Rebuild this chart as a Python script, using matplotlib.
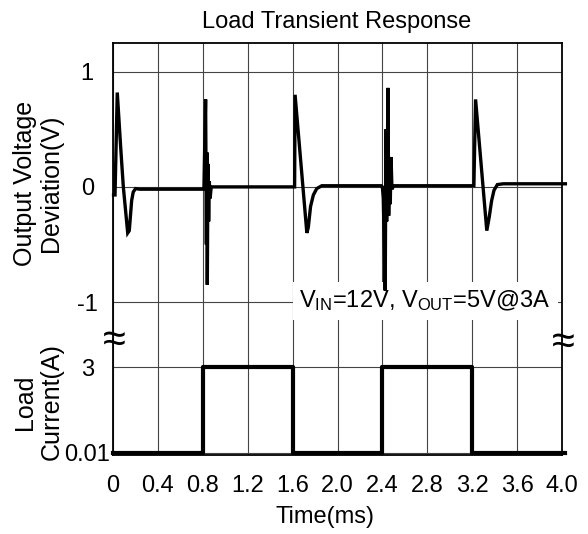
# Load transient response chart
import matplotlib
matplotlib.use('Agg')
import matplotlib.pyplot as plt
import numpy as np

plt.rcParams['font.family'] = ['Liberation Sans', 'DejaVu Sans']
plt.rcParams['mathtext.fontset'] = 'custom'
plt.rcParams['mathtext.rm'] = 'Liberation Sans'
plt.rcParams['mathtext.it'] = 'Liberation Sans:italic'

# output voltage deviation (V) vs time (ms)
t_volt = [0.005, 0.018, 0.038, 0.068, 0.092, 0.131, 0.145, 0.166, 0.18, 0.201, 0.24,
          0.80, 0.81, 0.825, 0.832, 0.836, 0.84, 0.846, 0.852, 0.858, 0.865, 0.875, 0.90,
          1.60, 1.618, 1.622, 1.727, 1.74, 1.76, 1.785, 1.815, 1.86,
          2.39, 2.40, 2.408, 2.425, 2.432, 2.438, 2.45, 2.456, 2.462, 2.47, 2.477, 2.485, 2.50,
          3.21, 3.215, 3.23, 3.33, 3.352, 3.373, 3.394, 3.424, 3.477, 4.03]
v_out = [-0.07, -0.07, 0.82, 0.35, 0.00, -0.40, -0.38, -0.12, -0.045, -0.015, -0.02,
         -0.02, -0.02, 0.76, -0.5, 0.3, -0.85, 0.2, -0.3, 0.05, -0.1, 0.0, 0.0,
         0.0, 0.0, 0.80, -0.40, -0.35, -0.17, -0.07, -0.015, 0.01,
         0.01, 0.0, -0.1, -0.90, 0.5, -0.3, 0.86, -0.25, 0.2, -0.15, 0.26, -0.02, 0.01,
         0.01, 0.01, 0.76, -0.38, -0.26, -0.12, -0.03, 0.02, 0.027, 0.027]

# load current (A)
t_load = [0, 0.8, 1.6, 2.4, 3.2, 4.03]
i_load = [0.01, 3, 0.01, 3, 0.01, 0.01]

x_ticks = [0, 0.4, 0.8, 1.2, 1.6, 2.0, 2.4, 2.8, 3.2, 3.6, 4.0]
x_labels = ['0', '0.4', '0.8', '1.2', '1.6', '2.0', '2.4', '2.8', '3.2', '3.6', '4.0']
v_ticks = [-1, 0, 1]
i_ticks = [0.01, 3]

FS = 17
W, H = 588, 534
fig = plt.figure(figsize=(W / 100, H / 100), dpi=100)
left, right = 113 / W, 562 / W
ax1 = fig.add_axes([left, 1 - 340 / H, right - left, (340 - 43) / H])
ax2 = fig.add_axes([left, 1 - 455 / H, right - left, (455 - 340) / H])

for ax in (ax1, ax2):
    ax.set_xlim(0, 4)
    ax.set_xticks(x_ticks)
    ax.grid(True, color='#444444', lw=0.8)
    ax.tick_params(length=0, labelsize=FS, pad=18.5)
    for s in ax.spines.values():
        s.set_linewidth(1.3)

ax1.plot(t_volt, v_out, color='black', lw=2.4, zorder=4, clip_on=False,
         solid_joinstyle='miter')
ax1.set_ylim(-1.33, 1.25)
ax1.set_yticks(v_ticks)
ax1.set_yticklabels(['-1', '0', '1'])
ax1.tick_params(axis='x', labelbottom=False)
ax1.spines['bottom'].set_visible(False)
for lab in ax1.get_yticklabels():
    lab.set_horizontalalignment('center')

ax2.plot(t_load, i_load, color='black', lw=3, drawstyle='steps-post', zorder=4,
         clip_on=False)
ax2.set_ylim(-0.06, 3.94)
ax2.set_yticks(i_ticks)
ax2.set_yticklabels(['0.01', '3'])
ax2.set_xticklabels(x_labels)
ax2.tick_params(axis='x', pad=14.5)
ax2.spines['top'].set_visible(False)
for lab in ax2.get_yticklabels():
    lab.set_horizontalalignment('center')

ax1.text(2.78, -0.99, r'V$_{\rm IN}$=12V, V$_{\rm OUT}$=5V@3A', fontsize=FS,
         ha='center', va='center', zorder=3,
         bbox=dict(facecolor='white', edgecolor='none', pad=5))

fig.text(337 / W, 1 - 22 / H, 'Load Transient Response', fontsize=FS,
         ha='center', va='center')
fig.text(325 / W, 1 - 517 / H, 'Time(ms)', fontsize=FS, ha='center', va='center')
fig.text(38 / W, 1 - 183 / H, 'Output Voltage\nDeviation(V)', fontsize=18,
         rotation=90, ha='center', va='center', multialignment='center',
         linespacing=1.15)
fig.text(38 / W, 1 - 402 / H, 'Load\nCurrent(A)', fontsize=18,
         rotation=90, ha='center', va='center', multialignment='center',
         linespacing=1.15)

# axis break marks
fig.text(114 / W, 1 - 341 / H, '≈', fontsize=30, ha='center', va='center')
fig.text(563 / W, 1 - 343 / H, '≈', fontsize=30, ha='center', va='center')

plt.savefig('out.png', dpi=100)
print("Saved out.png")
